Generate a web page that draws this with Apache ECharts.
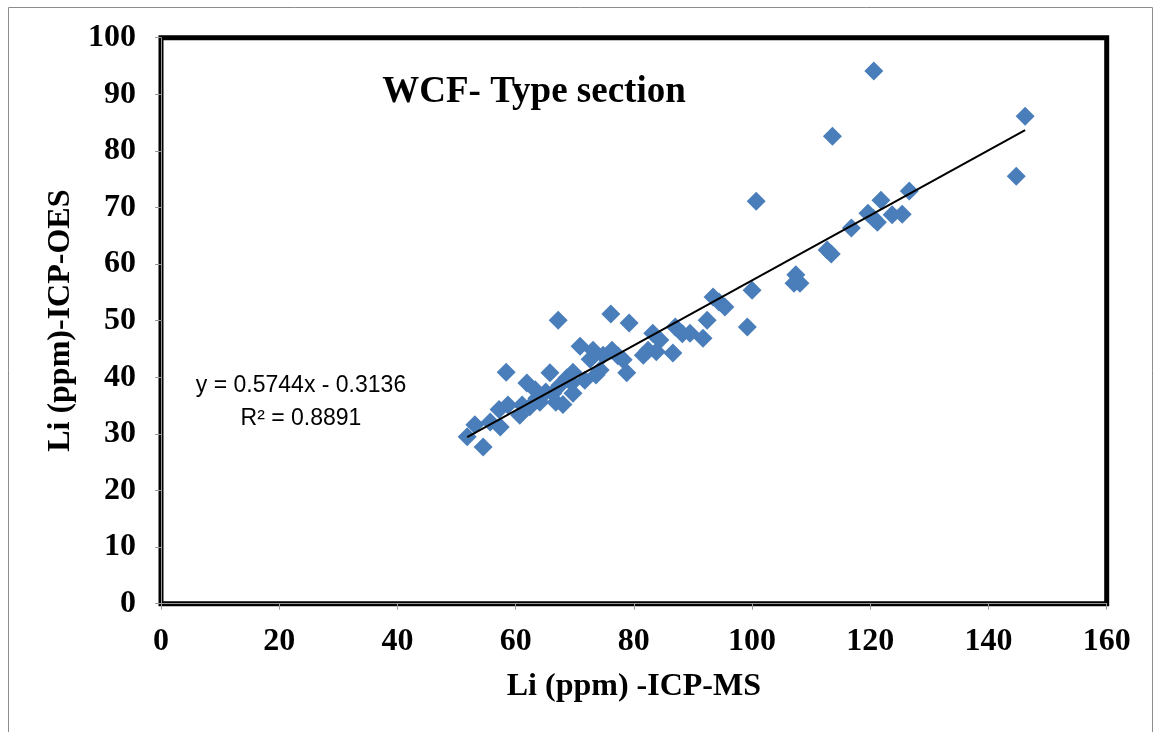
<!DOCTYPE html>
<html>
<head>
<meta charset="utf-8">
<script src="https://cdn.jsdelivr.net/npm/echarts@6/dist/echarts.min.js"></script>
<style>
html,body{margin:0;padding:0;background:#fff;}
#c{width:1155px;height:732px;}
</style>
</head>
<body>
<div id="c"></div>
<script>
// ICP-MS (x) values
const icpMS = [51.8,53.1,54.5,55.7,57.2,57.4,58.4,58.7,60.7,61.1,61.9,62.4,63.3,63.6,64.1,65.1,65.8,66.3,66.8,67.2,67.5,68.0,68.7,69.5,69.7,69.7,70.9,71.7,72.6,73.1,73.6,74.3,74.8,76.1,76.3,77.3,78.2,78.8,79.2,81.6,82.4,83.2,83.8,84.4,86.6,87.0,88.2,89.5,91.7,92.4,93.4,94.4,95.4,99.2,100.0,100.7,107.1,107.4,108.1,112.7,113.4,113.6,116.8,119.6,120.5,120.6,121.2,121.8,123.7,125.4,126.6,144.7,146.2];
// ICP-OES (y) values
const icpOES = [29.5,31.6,27.7,32.1,34.3,31.2,40.9,35.1,33.3,35.1,39.0,34.8,37.8,36.3,35.6,37.4,40.8,37.2,35.6,50.1,38.6,35.2,39.9,39.0,37.2,40.9,45.5,39.5,43.2,44.8,40.4,41.3,43.9,51.2,44.8,43.8,43.1,40.8,49.6,43.9,44.8,47.8,44.5,46.6,44.3,48.9,47.7,47.8,46.9,50.1,54.2,53.3,52.4,48.9,55.4,71.1,56.6,58.1,56.6,62.5,61.8,82.6,66.4,69.0,68.1,94.1,67.4,71.3,68.7,68.8,72.9,75.5,86.1];
// Linear trend (as printed on chart)
const slope = 0.5744, intercept = -0.3136;
const trendX = [51.8, 146.2];
const xTicks = [0,20,40,60,80,100,120,140,160];
const yTicks = [0,10,20,30,40,50,60,70,80,90,100];

const pts = icpMS.map((x,i)=>[x, icpOES[i]]);
const trend = trendX.map(x=>[x, slope*x+intercept]);

const chart = echarts.init(document.getElementById('c'));
const serif = '"Liberation Serif","Times New Roman",serif';
const sans = '"Liberation Sans",Arial,sans-serif';
chart.setOption({
  animation:false,
  grid:{left:161, right:48.3, top:37.7, bottom:128.3, show:true, borderColor:'#000', borderWidth:5, backgroundColor:'transparent'},
  xAxis:{type:'value', min:0, max:160, interval:20, offset:3,
    axisLine:{show:true, lineStyle:{color:'#999', width:1}},
    axisTick:{show:true, length:6, lineStyle:{color:'#999'}},
    splitLine:{show:false},
    axisLabel:{fontFamily:serif, fontWeight:'bold', fontSize:32, color:'#000', margin:19},
    name:'Li (ppm) -ICP-MS', nameLocation:'middle', nameGap:64,
    nameTextStyle:{fontFamily:serif, fontWeight:'bold', fontSize:32, color:'#000'}
  },
  yAxis:{type:'value', min:0, max:100, interval:10, offset:3,
    axisLine:{show:true, lineStyle:{color:'#999', width:1}},
    axisTick:{show:true, length:6, lineStyle:{color:'#999'}},
    splitLine:{show:false},
    axisLabel:{fontFamily:serif, fontWeight:'bold', fontSize:32, color:'#000', margin:22},
    name:'Li (ppm)-ICP-OES', nameLocation:'middle', nameGap:70,
    nameTextStyle:{fontFamily:serif, fontWeight:'bold', fontSize:32, color:'#000'}
  },
  graphic:[
    {type:'rect', silent:true, shape:{x:8.5,y:7.5,width:1144,height:760}, style:{fill:'none', stroke:'#8c8c8c', lineWidth:1}, z:-10},
    {type:'text', style:{text:'WCF- Type section', x:534, y:92, align:'center', verticalAlign:'middle', fontFamily:serif, fontWeight:'bold', fontSize:37, fill:'#000'}},
    {type:'text', style:{text:'y = 0.5744x - 0.3136', x:301, y:386, align:'center', verticalAlign:'middle', fontFamily:sans, fontSize:23, fill:'#000'}},
    {type:'text', style:{text:'R² = 0.8891', x:301, y:419, align:'center', verticalAlign:'middle', fontFamily:sans, fontSize:23, fill:'#000'}}
  ],
  series:[
    {type:'scatter', data:pts, symbol:'diamond', symbolSize:19, itemStyle:{color:'#4a7ebb', opacity:1}, z:2},
    {type:'line', data:trend, symbol:'none', lineStyle:{color:'#000', width:2}, z:3}
  ]
});
</script>
</body>
</html>
